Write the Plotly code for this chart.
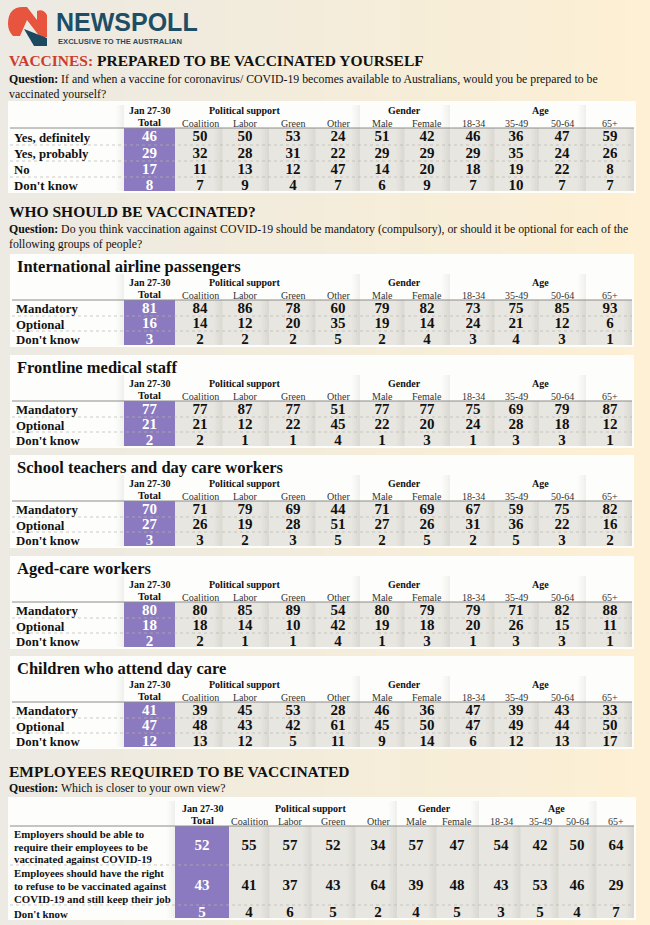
import plotly.graph_objects as go

# ---- data ----
columns = ["Coalition", "Labor", "Green", "Other", "Male", "Female", "18-34", "35-49", "50-64", "65+"]
groups = ["Political support", "Gender", "Age"]

q1_rows = ["Yes, definitely", "Yes, probably", "No", "Don't know"]
q1_total = [46, 29, 17, 8]
q1_values = [
    [50, 50, 53, 24, 51, 42, 46, 36, 47, 59],
    [32, 28, 31, 22, 29, 29, 29, 35, 24, 26],
    [11, 13, 12, 47, 14, 20, 18, 19, 22, 8],
    [7, 9, 4, 7, 6, 9, 7, 10, 7, 7],
]

mand_rows = ["Mandatory", "Optional", "Don't know"]
people = ["International airline passengers", "Frontline medical staff",
          "School teachers and day care workers", "Aged-care workers",
          "Children who attend day care"]
people_total = [
    [81, 16, 3],
    [77, 21, 2],
    [70, 27, 3],
    [80, 18, 2],
    [41, 47, 12],
]
airline = [[84, 86, 78, 60, 79, 82, 73, 75, 85, 93],
           [14, 12, 20, 35, 19, 14, 24, 21, 12, 6],
           [2, 2, 2, 5, 2, 4, 3, 4, 3, 1]]
frontline = [[77, 87, 77, 51, 77, 77, 75, 69, 79, 87],
             [21, 12, 22, 45, 22, 20, 24, 28, 18, 12],
             [2, 1, 1, 4, 1, 3, 1, 3, 3, 1]]
teachers = [[71, 79, 69, 44, 71, 69, 67, 59, 75, 82],
            [26, 19, 28, 51, 27, 26, 31, 36, 22, 16],
            [3, 2, 3, 5, 2, 5, 2, 5, 3, 2]]
aged = [[80, 85, 89, 54, 80, 79, 79, 71, 82, 88],
        [18, 14, 10, 42, 19, 18, 20, 26, 15, 11],
        [2, 1, 1, 4, 1, 3, 1, 3, 3, 1]]
children = [[39, 45, 53, 28, 46, 36, 47, 39, 43, 33],
            [48, 43, 42, 61, 45, 50, 47, 49, 44, 50],
            [13, 12, 5, 11, 9, 14, 6, 12, 13, 17]]
people_values = [airline, frontline, teachers, aged, children]

emp_rows = ["Employers should be able to<br>require their employees to be<br>vaccinated against COVID-19",
            "Employees should have the right<br>to refuse to be vaccinated against<br>COVID-19 and still keep their job",
            "Don't know"]
emp_total = [52, 43, 5]
emp_values = [[55, 57, 52, 34, 57, 47, 54, 42, 50, 64],
              [41, 37, 43, 64, 39, 48, 43, 53, 46, 29],
              [4, 6, 5, 2, 4, 5, 3, 5, 4, 7]]

# ---- style ----
W, H = 650, 925
SERIF = "Liberation Serif"
PURPLE = "#8b7abf"
CELL = "#e8e6e0"
RED = "#cc3b2c"

fig = go.Figure()
shapes = []
annots = []


def txt(x, y, s, size=12, bold=False, color="#111", xa="left", ya="middle", font=SERIF):
    annots.append(dict(x=x, y=y, text=s, showarrow=False, xanchor=xa, yanchor=ya,
                       align="left" if xa == "left" else "center",
                       font=dict(family=font, size=size, color=color,
                                 weight="bold" if bold else "normal")))


def rect(x0, y0, x1, y1, color, opacity=1):
    shapes.append(dict(type="rect", x0=x0, x1=x1, y0=y0, y1=y1, fillcolor=color,
                       line=dict(width=0), layer="below", opacity=opacity))


# background gradient (left greyish cream -> right warm yellow)
left_c, right_c = (236, 234, 227), (253, 240, 212)
n = 26
for i in range(n):
    t = i / (n - 1)
    c = tuple(int(left_c[k] + (right_c[k] - left_c[k]) * t) for k in range(3))
    rect(i * W / n, 0, (i + 1) * W / n + 1, H, "rgb(%d,%d,%d)" % c)

# logo
shapes.append(dict(type="path", layer="below", fillcolor="#e8553e", line=dict(width=0),
                   path="M 8,24 C 8,12 14,7 22,7 L 27,7 L 37,20 L 37,11 C 41,9 45,11 47,15 "
                        "L 47,37 L 40,37 L 27,20 L 20,36 L 13,36 C 10,33 8,29 8,24 Z"))
shapes.append(dict(type="path", layer="below", fillcolor="#1b4a60", line=dict(width=0),
                   path="M 24,29 L 47,38 L 47,46 L 34,46 Z"))
txt(54, 22, "NEWSPOLL", size=25, bold=True, color="#1e4e65", font="Liberation Sans")
txt(56, 41, "EXCLUSIVE TO THE AUSTRALIAN", size=7.6, bold=True, color="#1e4e65", font="Liberation Sans")


def shadow(xb, y0, y1, strength=0.18, width=8):
    # soft grey band to the left of a column boundary
    steps = 4
    for s in range(steps):
        a = strength * (s + 1) / steps
        x0 = xb - width + s * width / steps
        rect(x0, y0, x0 + width / steps, y1, "#9a9890", a)


def table(top, bottom, left, right, hdr1, hdr2, line_y, row_edges, labels, totals, values,
          xs, box, group_x, label_size=12.8, num_size=15, title=None, title_y=None, line_gap=13):
    rect(left, top, right, bottom, "#fdfdfb")
    # data cells
    rect(box[1], line_y, right - 2, bottom - 2, CELL)
    bounds = [box[1]] + [(xs[i] + xs[i + 1]) / 2 for i in range(len(xs) - 1)] + [right - 2]
    for b in bounds[1:]:
        shadow(b, line_y, bottom - 2, 0.16)
    head_top = title_y + 8 if title else top + 4
    shadow(box[0], head_top, bottom - 2, 0.12)
    for b in [bounds[4], bounds[6], bounds[9]]:
        shadow(b, head_top, line_y, 0.12)
    rect(box[0], line_y, box[1], bottom - 2, PURPLE)
    # lines
    shapes.append(dict(type="line", x0=left + 2, x1=right - 2, y0=line_y, y1=line_y,
                       line=dict(color="#8c8c8c", width=1), layer="below"))
    for e in row_edges[1:-1]:
        shapes.append(dict(type="line", x0=left + 2, x1=right - 2, y0=e, y1=e,
                           line=dict(color="#b8b6b0", width=0.7, dash="dot"), layer="below"))
    if title:
        txt(left + 5, title_y, title, size=16.5, bold=True)
    # headers
    cx = (box[0] + box[1]) / 2
    txt(cx, hdr1, "Jan 27-30", size=10, bold=True, xa="center")
    txt(cx, hdr2, "Total", size=10.5, bold=True, xa="center")
    for g, gx in zip(groups, group_x):
        txt(gx, hdr1, g, size=10, bold=True, xa="center")
    for c, x in zip(columns, xs):
        txt(x, hdr2 + 1, c, size=10, color="#333", xa="center")
    mids = [(row_edges[i] + row_edges[i + 1]) / 2 + 1 for i in range(len(labels))]
    for lab, y in zip(labels, mids):
        parts = lab.split("<br>")
        for j, p in enumerate(parts):
            txt(left + 4, y + (j - (len(parts) - 1) / 2) * line_gap, p, size=label_size, bold=True)
    # numbers
    fig.add_trace(go.Scatter(
        x=[cx] * len(totals), y=mids, mode="text", text=[str(v) for v in totals],
        textfont=dict(family=SERIF, size=num_size, color="white", weight="bold"),
        hoverinfo="skip", showlegend=False))
    xx, yy, tt = [], [], []
    for row, y in zip(values, mids):
        for v, x in zip(row, xs):
            xx.append(x)
            yy.append(y)
            tt.append(str(v))
    fig.add_trace(go.Scatter(
        x=xx, y=yy, mode="text", text=tt,
        textfont=dict(family=SERIF, size=num_size, color="#111", weight="bold"),
        hoverinfo="skip", showlegend=False))


xs_main = [200, 245, 293, 338, 382, 427, 473, 516, 562, 610]
box_main = (124, 175)
grp_main = [245, 404, 540]

# section 1
txt(7, 60, "<span style='color:%s'>VACCINES:</span> PREPARED TO BE VACCINATED YOURSELF" % RED,
    size=15.5, bold=True)
txt(7, 70, "<b>Question:</b> If and when a vaccine for coronavirus/ COVID-19 becomes available to "
           "Australians, would you be prepared to be<br>vaccinated yourself?", size=11.8, ya="top")
table(101, 193, 8, 636, 110, 122, 128, [128, 145, 161, 177, 193], q1_rows, q1_total, q1_values,
      xs_main, box_main, grp_main)

# section 2
txt(7, 211, "WHO SHOULD BE VACCINATED?", size=15.5, bold=True)
txt(7, 220, "<b>Question:</b> Do you think vaccination against COVID-19 should be mandatory "
            "(compulsory), or should it be optional for each of the<br>following groups of people?",
    size=11.8, ya="top")
tops = [254, 355, 455, 556, 656]
for k in range(5):
    t = tops[k]
    b = t + 93
    table(t, b, 10, 634, t + 28, t + 40, t + 46, [t + 46, t + 62, t + 77, t + 93],
          mand_rows, people_total[k], people_values[k], xs_main, box_main, grp_main,
          title=people[k], title_y=t + 12)

# section 3
txt(7, 771, "EMPLOYEES REQUIRED TO BE VACCINATED", size=15.5, bold=True)
txt(7, 788, "<b>Question:</b> Which is closer to your own view?", size=11.8)
table(797, 920, 8, 636, 808, 820, 826, [826, 865, 905, 920], emp_rows, emp_total, emp_values,
      [249, 290, 333, 378, 416, 457, 501, 540, 577, 616], (175, 229), [311, 434, 556],
      label_size=10.8, line_gap=12.8)

fig.update_layout(
    width=W, height=H, margin=dict(l=0, r=0, t=0, b=0),
    paper_bgcolor="#f4f1e8", plot_bgcolor="rgba(0,0,0,0)",
    xaxis=dict(range=[0, W], visible=False, fixedrange=True),
    yaxis=dict(range=[H, 0], visible=False, fixedrange=True),
    shapes=shapes, annotations=annots, showlegend=False,
)

fig.write_html("out.html", post_script="document.body.style.margin='0';",
               config={"displayModeBar": False})
